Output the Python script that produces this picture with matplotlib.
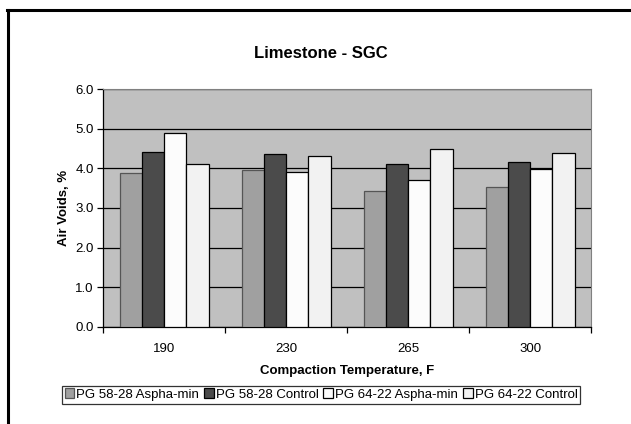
import numpy as np
import matplotlib
matplotlib.use('Agg')
import matplotlib.pyplot as plt
from matplotlib.lines import Line2D

plt.rcParams['font.family'] = ['Liberation Sans', 'DejaVu Sans']

temps = ['190', '230', '265', '300']
series = ['PG 58-28 Aspha-min', 'PG 58-28 Control', 'PG 64-22 Aspha-min', 'PG 64-22 Control']
pg5828_asphamin = [3.88, 3.96, 3.44, 3.52]
pg5828_control = [4.41, 4.37, 4.10, 4.15]
pg6422_asphamin = [4.90, 3.90, 3.70, 3.99]
pg6422_control = [4.10, 4.31, 4.50, 4.40]

values = [pg5828_asphamin, pg5828_control, pg6422_asphamin, pg6422_control]
colors = ['#a0a0a0', '#4b4b4b', '#fcfcfc', '#f2f2f2']
edges = ['#555555', '#000000', '#000000', '#000000']

fig = plt.figure(figsize=(6.31, 4.24), dpi=100)
ax = fig.add_axes([0.1637, 0.2295, 0.7733, 0.5599])
ax.set_facecolor('#c0c0c0')

x = np.arange(len(temps))
w = 0.182
for i, vals in enumerate(values):
    ax.bar(x + (i - 1.5) * w, vals, width=w, color=colors[i], edgecolor=edges[i],
           linewidth=0.9, label=series[i], zorder=3)

ax.set_xlim(-0.5, 3.5)
ax.set_ylim(0, 6)
ax.set_yticks(np.arange(0, 6.1, 1.0))
ax.set_yticklabels(['%.1f' % v for v in np.arange(0, 6.1, 1.0)], fontsize=9.5)
ax.yaxis.grid(True, color='black', linewidth=0.9, zorder=1)
ax.set_axisbelow(True)

ax.set_xticks(x)
ax.set_xticklabels(temps, fontsize=9.5)
ax.tick_params(axis='x', length=0, pad=12)
ax.set_xticks(np.arange(-0.5, 3.6, 1.0), minor=True)
ax.tick_params(axis='x', which='minor', length=4, width=0.9, direction='out')
ax.tick_params(axis='y', length=4, width=0.9, direction='out', pad=3)

for side in ['top', 'right']:
    ax.spines[side].set_color('#808080')
for side in ['left', 'bottom']:
    ax.spines[side].set_color('black')
ax.spines['left'].set_linewidth(0.9)
ax.spines['bottom'].set_linewidth(0.9)

ax.set_xlabel('Compaction Temperature, F', fontsize=9.5, fontweight='bold', labelpad=7)
ax.set_ylabel('Air Voids, %', fontsize=9.5, fontweight='bold', labelpad=4)
fig.text(0.5087, 1 - 53 / 424, 'Limestone - SGC', fontsize=12, fontweight='bold',
         ha='center', va='center')

leg = fig.legend(loc='center', bbox_to_anchor=(0.5087, 1 - 394.7 / 424), ncol=4,
                 fontsize=9.5, frameon=True, fancybox=False, handlelength=0.75,
                 handleheight=0.75, handletextpad=0.15, columnspacing=0.35,
                 borderpad=0.22, borderaxespad=0)
leg.get_frame().set_edgecolor('black')
leg.get_frame().set_linewidth(0.9)

# outer frame (left and top edges visible)
fig.add_artist(Line2D([7.5 / 631, 7.5 / 631], [0, 1 - 9.5 / 424], transform=fig.transFigure,
                      color='black', linewidth=2.2))
fig.add_artist(Line2D([6.5 / 631, 1], [1 - 9.5 / 424, 1 - 9.5 / 424], transform=fig.transFigure,
                      color='black', linewidth=2.2))

fig.savefig('out.png', dpi=100)
